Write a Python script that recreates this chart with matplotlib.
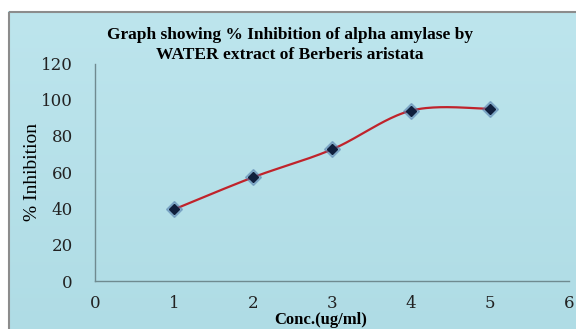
import numpy as np
import matplotlib.pyplot as plt
from matplotlib.patches import Rectangle
from matplotlib.colors import LinearSegmentedColormap

conc = [1, 2, 3, 4, 5]
inhibition = [39.5, 57.2, 72.6, 94.0, 95.0]

xticks = [0, 1, 2, 3, 4, 5, 6]
yticks = [0, 20, 40, 60, 80, 100, 120]

title = "Graph showing % Inhibition of alpha amylase by\nWATER extract of Berberis aristata"


def smooth_curve(xs, ys, n=40):
    # cubic bezier through the points, control points as in spreadsheet smoothed lines
    p = np.column_stack([xs, ys]).astype(float)
    p = np.vstack([p[0], p, p[-1]])
    out = []
    t = np.linspace(0, 1, n)[:, None]
    for i in range(1, len(p) - 2):
        p0, p3 = p[i], p[i + 1]
        c1 = p0 + (p[i + 1] - p[i - 1]) / 6
        c2 = p3 - (p[i + 2] - p[i]) / 6
        seg = ((1 - t) ** 3) * p0 + 3 * ((1 - t) ** 2) * t * c1 + 3 * (1 - t) * t ** 2 * c2 + t ** 3 * p3
        out.append(seg)
    out = np.vstack(out)
    return out[:, 0], out[:, 1]


plt.rcParams['font.family'] = ['Liberation Serif', 'DejaVu Serif']

W, H = 576, 329
fig = plt.figure(figsize=(W / 100, H / 100), dpi=100)
fig.patch.set_facecolor('white')

# chart area with border
bg = fig.add_axes([0, 0, 1, 1], zorder=-5)
bg.set_xlim(0, W)
bg.set_ylim(H, 0)
bg.axis('off')
grad = np.linspace(0, 1, 200)[:, None] * np.ones((1, 10))
water = LinearSegmentedColormap.from_list('water', ['#bde5ed', '#afdce5'])
bg.imshow(grad, extent=[8, 580, 335, 11], cmap=water, aspect='auto', zorder=0)
bg.add_patch(Rectangle((8.5, 11.5), 580, 330, fill=False, edgecolor='#8c8c8c', linewidth=1.5, zorder=1))

ax = fig.add_axes([95 / W, 1 - 281 / H, (569 - 95) / W, (281 - 63.5) / H])
ax.patch.set_alpha(0)
sx, sy = smooth_curve(conc, inhibition)
ax.plot(sx, sy, color='#c0232b', linewidth=1.6, zorder=3)
ax.plot(conc, inhibition, linestyle='none', marker='D', markersize=8.5, color='#4f78aa', alpha=0.45, zorder=4)
ax.plot(conc, inhibition, linestyle='none', marker='D', markersize=5.5, color='#0f1f3d', zorder=5)

ax.set_xlim(0, 6)
ax.set_ylim(0, 120)
ax.set_xticks(xticks)
ax.set_yticks(yticks)
ax.tick_params(length=0, labelsize=12, colors='#222222')
for lab in ax.get_xticklabels() + ax.get_yticklabels():
    lab.set_family('DejaVu Serif')
ax.tick_params(axis='x', pad=10)
ax.tick_params(axis='y', pad=16)
for s in ['top', 'right']:
    ax.spines[s].set_visible(False)
for s in ['left', 'bottom']:
    ax.spines[s].set_color('#6f8a90')
    ax.spines[s].set_linewidth(1.0)

ax.set_xlabel("Conc.(ug/ml)", fontsize=12, fontweight='bold')
ax.xaxis.set_label_coords((321 - 95) / (569 - 95), -(320.5 - 281) / (281 - 63.5))
ax.xaxis.label.set_va('center')
ax.set_ylabel("% Inhibition", fontsize=14)
ax.yaxis.set_label_coords(-(95 - 33) / (569 - 95), (281 - 172) / (281 - 63.5))
ax.yaxis.label.set_va('center')

fig.text(290 / W, 1 - 45 / H, title, ha='center', va='center', fontsize=12.5,
         fontweight='bold', linespacing=1.35)

fig.savefig('out.png', dpi=100)
